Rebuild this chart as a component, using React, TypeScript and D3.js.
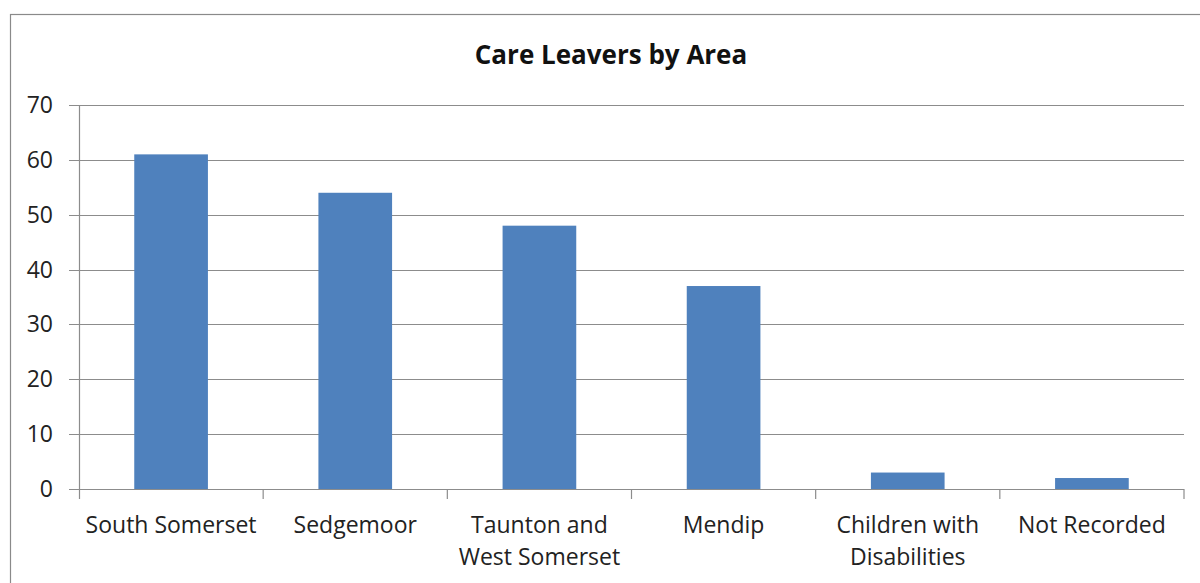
import React from "react";
import * as d3 from "d3";

const categories: string[][] = [
  ["South Somerset"],
  ["Sedgemoor"],
  ["Taunton and", "West Somerset"],
  ["Mendip"],
  ["Children with", "Disabilities"],
  ["Not Recorded"],
];
const values: number[] = [61, 54, 48, 37, 3, 2];
const yTicks: number[] = [0, 10, 20, 30, 40, 50, 60, 70];
const title = "Care Leavers by Area";

const W = 1200;
const H = 583;
const FONT = "'Open Sans', 'Liberation Sans', sans-serif";

export default function App() {
  const left = 79;
  const right = 1184;
  const top = 105;
  const bottom = 489;
  const keys = categories.map((_, i) => String(i));
  const x = d3.scaleBand<string>().domain(keys).range([left, right]).paddingInner(0.6).paddingOuter(0.3);
  const band = d3.scaleBand<string>().domain(keys).range([left, right]);
  const y = d3.scaleLinear().domain([0, 70]).range([bottom, top]);
  const grid = "#8c8c8c";

  return (
    <svg width={W} height={H} style={{ position: "absolute", left: 0, top: 0, background: "#fff" }}>
      <rect x={10.5} y={14.5} width={1200} height={600} fill="#fff" stroke="#8a8a8a" strokeWidth={1.2} />
      <text x={611} y={64} textAnchor="middle" fontFamily={FONT} fontWeight="bold" fontSize={26} fill="#111">
        {title}
      </text>
      {yTicks.map((t) => (
        <g key={t}>
          <line x1={69} x2={right} y1={Math.round(y(t)) + 0.5} y2={Math.round(y(t)) + 0.5} stroke={grid} strokeWidth={1.2} />
          <text x={53} y={y(t) + 8} textAnchor="end" fontFamily={FONT} fontSize={23} fill="#222">
            {t}
          </text>
        </g>
      ))}
      <line x1={left + 0.5} x2={left + 0.5} y1={top} y2={bottom + 10} stroke={grid} strokeWidth={1.2} />
      {keys.map((k) => (
        <line key={"t" + k} x1={(band(k) as number) + band.bandwidth()} x2={(band(k) as number) + band.bandwidth()} y1={bottom} y2={bottom + 10} stroke={grid} strokeWidth={1.2} />
      ))}
      {values.map((v, i) => (
        <rect key={i} x={x(String(i))} y={y(v)} width={x.bandwidth()} height={bottom - y(v)} fill="#4f81bd" />
      ))}
      {categories.map((lines, i) => {
        const cx = (band(String(i)) as number) + band.bandwidth() / 2;
        return (
          <text key={"c" + i} textAnchor="middle" fontFamily={FONT} fontSize={23} fill="#222">
            {lines.map((ln, j) => (
              <tspan key={j} x={cx} y={533 + j * 32}>
                {ln}
              </tspan>
            ))}
          </text>
        );
      })}
    </svg>
  );
}
